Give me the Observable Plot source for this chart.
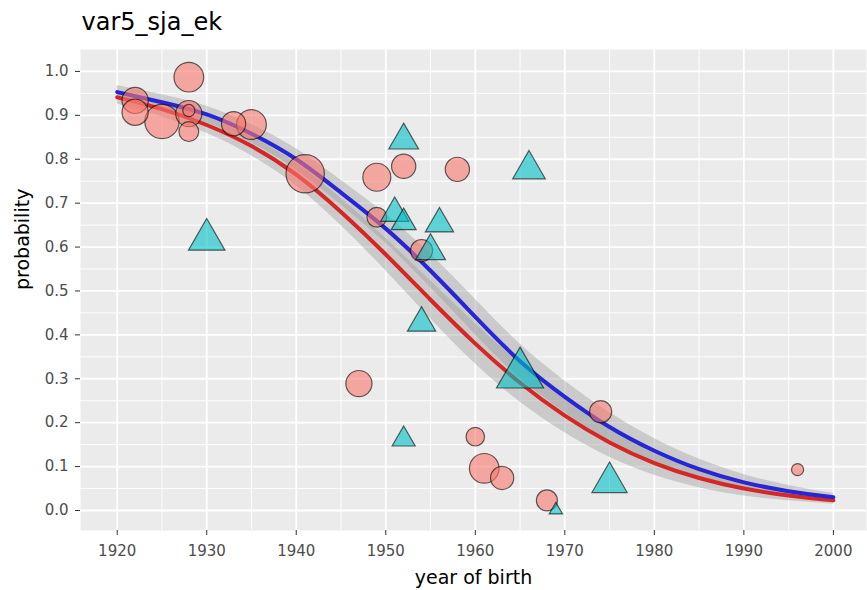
<!DOCTYPE html>
<html>
<head>
<meta charset="utf-8">
<script src="https://cdn.jsdelivr.net/npm/d3@7"></script>
<script src="https://cdn.jsdelivr.net/npm/@observablehq/plot@0.6"></script>
<style>
  html, body { margin: 0; padding: 0; background: #ffffff; }
  #chart { width: 867px; height: 590px; }
  svg { font-family: "DejaVu Sans", "Liberation Sans", Arial, sans-serif; }
</style>
</head>
<body>
<div id="chart"></div>
<script>
// ---- data ----
const chartTitle = "var5_sja_ek";
const xLabel = "year of birth";
const yLabel = "probability";

const xTicks = [1920, 1930, 1940, 1950, 1960, 1970, 1980, 1990, 2000];
const yTicks = [0, 0.1, 0.2, 0.3, 0.4, 0.5, 0.6, 0.7, 0.8, 0.9, 1.0];

// circles (group 1)
const circleYear = [1922, 1922, 1925, 1928, 1928, 1928, 1928, 1933, 1935, 1941, 1949, 1952, 1958, 1949, 1954, 1947, 1974, 1960, 1961, 1963, 1968, 1996];
const circleProb = [0.934, 0.907, 0.886, 0.987, 0.904, 0.911, 0.863, 0.881, 0.879, 0.767, 0.759, 0.784, 0.777, 0.668, 0.592, 0.289, 0.225, 0.168, 0.096, 0.074, 0.023, 0.093];
const circleN    = [14, 14, 24, 18, 14, 3, 8, 12, 18, 30, 16, 12, 12, 8, 10, 14, 10, 7, 18, 11, 9, 3];

// triangles (group 2)
const triYear = [1952, 1930, 1966, 1951, 1952, 1956, 1955, 1954, 1965, 1952, 1975, 1969];
const triProb = [0.843, 0.617, 0.777, 0.677, 0.656, 0.653, 0.591, 0.427, 0.310, 0.162, 0.064, 0.001];
const triN    = [10, 15, 12, 9, 7, 9, 10, 9, 25, 6, 14, 2];

// fitted curves and confidence bands
const fitYear = [1920, 1925, 1930, 1935, 1940, 1945, 1950, 1955, 1960, 1965, 1970, 1975, 1980, 1985, 1990, 1995, 2000];
const blueFit = [0.953, 0.930, 0.902, 0.858, 0.800, 0.724, 0.642, 0.546, 0.441, 0.340, 0.259, 0.190, 0.136, 0.094, 0.064, 0.044, 0.030];
const blueLo  = [0.938, 0.913, 0.883, 0.837, 0.776, 0.696, 0.609, 0.508, 0.401, 0.301, 0.223, 0.157, 0.108, 0.071, 0.046, 0.031, 0.021];
const blueHi  = [0.968, 0.947, 0.921, 0.879, 0.824, 0.752, 0.675, 0.584, 0.481, 0.379, 0.295, 0.223, 0.164, 0.117, 0.082, 0.057, 0.039];
const redFit  = [0.941, 0.914, 0.878, 0.830, 0.765, 0.680, 0.583, 0.480, 0.380, 0.291, 0.216, 0.155, 0.108, 0.074, 0.050, 0.034, 0.023];
const redLo   = [0.926, 0.897, 0.859, 0.808, 0.739, 0.649, 0.546, 0.437, 0.334, 0.247, 0.177, 0.121, 0.080, 0.052, 0.033, 0.022, 0.014];
const redHi   = [0.956, 0.931, 0.897, 0.852, 0.791, 0.711, 0.620, 0.523, 0.426, 0.335, 0.255, 0.189, 0.136, 0.096, 0.067, 0.046, 0.032];

// ---- tables built from the arrays ----
const circles = circleYear.map((y, i) => ({year: y, prob: circleProb[i], n: circleN[i]}));
const triangles = triYear.map((y, i) => ({year: y, prob: triProb[i], n: triN[i]}));
const fits = fitYear.map((y, i) => ({
  year: y, blue: blueFit[i], blo: blueLo[i], bhi: blueHi[i],
  red: redFit[i], rlo: redLo[i], rhi: redHi[i]
}));
const midpoints = a => d3.pairs(a).map(([p, q]) => (p + q) / 2);
const xMinor = midpoints(xTicks);
const yMinor = midpoints(yTicks);

const maxN = 30;
const font = '"DejaVu Sans", "Liberation Sans", Arial, sans-serif';

const chart = Plot.plot({
  width: 867,
  height: 590,
  marginTop: 49,
  marginLeft: 80,
  marginRight: 1,
  marginBottom: 60,
  style: {fontFamily: font, background: "white"},
  x: {domain: [1915.9, 2003.7]},
  y: {domain: [-0.0456, 1.050]},
  r: {type: "sqrt", domain: [0, maxN], range: [0, 3.5 * Math.sqrt(maxN)]},
  marks: [
    Plot.frame({fill: "#EBEBEB", stroke: null}),
    Plot.ruleX(xMinor, {stroke: "white", strokeWidth: 0.9}),
    Plot.ruleY(yMinor, {stroke: "white", strokeWidth: 0.9}),
    Plot.ruleX(xTicks, {stroke: "white", strokeWidth: 1.8}),
    Plot.ruleY(yTicks, {stroke: "white", strokeWidth: 1.8}),
    Plot.areaY(fits, {x: "year", y1: "rlo", y2: "rhi", fill: "#999999", fillOpacity: 0.4, curve: "natural"}),
    Plot.areaY(fits, {x: "year", y1: "blo", y2: "bhi", fill: "#999999", fillOpacity: 0.4, curve: "natural"}),
    Plot.lineY(fits, {x: "year", y: "red", stroke: "#d62626", strokeWidth: 4, curve: "natural"}),
    Plot.lineY(fits, {x: "year", y: "blue", stroke: "#2626d6", strokeWidth: 4, curve: "natural"}),
    Plot.dot(circles, {x: "year", y: "prob", r: "n", symbol: "circle", fill: "#F8766D", fillOpacity: 0.6, stroke: "#000", strokeOpacity: 0.6, strokeWidth: 1.2}),
    Plot.dot(triangles, {x: "year", y: "prob", r: "n", symbol: "triangle", fill: "#00BFC4", fillOpacity: 0.6, stroke: "#000", strokeOpacity: 0.6, strokeWidth: 1.2}),
    Plot.axisX({ticks: xTicks, tickFormat: d => String(d), tickSize: 5, tickPadding: 10, fontSize: 15, stroke: "#333333", fill: "#4D4D4D", label: null}),
    Plot.axisY({ticks: yTicks, tickFormat: d3.format(".1f"), tickSize: 5, tickPadding: 7, fontSize: 15, stroke: "#333333", fill: "#4D4D4D", label: null}),
    Plot.text([xLabel], {frameAnchor: "bottom", dy: 47, lineAnchor: "middle", text: d => d, fontSize: 19, fill: "#000"}),
    Plot.text([yLabel], {frameAnchor: "left", dx: -58, rotate: -90, lineAnchor: "middle", text: d => d, fontSize: 19, fill: "#000"}),
    Plot.text([chartTitle], {frameAnchor: "top-left", dx: 1, dy: -26.7, lineAnchor: "middle", textAnchor: "start", text: d => d, fontSize: 24, fill: "#000"})
  ]
});
document.getElementById("chart").appendChild(chart);
</script>
</body>
</html>
